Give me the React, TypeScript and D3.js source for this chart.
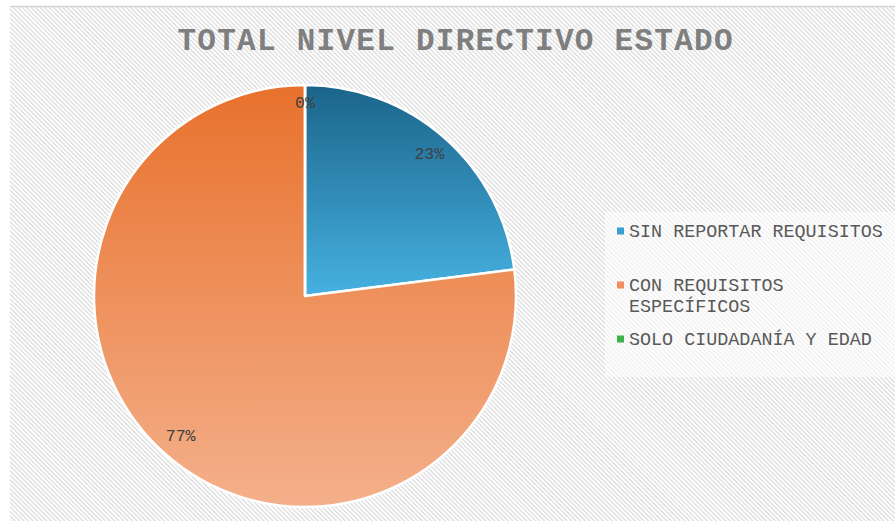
import { useEffect, useRef } from 'react';
import * as d3 from 'd3';

// Data
const categories = ['SIN REPORTAR REQUISITOS', 'CON REQUISITOS ESPECÍFICOS', 'SOLO CIUDADANÍA Y EDAD'];
const legendLines = [['SIN REPORTAR REQUISITOS'], ['CON REQUISITOS', 'ESPECÍFICOS'], ['SOLO CIUDADANÍA Y EDAD']];
const values = [23, 77, 0];
const gradTop = ['#1b6489', '#e8712c', '#2ea043'];
const gradBottom = ['#46b1e1', '#f4b08b', '#4cc35a'];
const legendColors = ['#3a9fd0', '#ee8f5d', '#3cb44b'];

const W = 895;
const H = 521;

function App() {
  const ref = useRef<SVGSVGElement>(null);

  useEffect(() => {
    const svg = d3.select(ref.current);
    svg.selectAll('*').remove();

    const defs = svg.append('defs');
    const pat = defs.append('pattern')
      .attr('id', 'hatch')
      .attr('patternUnits', 'userSpaceOnUse')
      .attr('width', 3.2)
      .attr('height', 3.2)
      .attr('patternTransform', 'rotate(-45)');
    pat.append('rect').attr('width', 3.2).attr('height', 3.2).attr('fill', '#ffffff');
    pat.append('rect').attr('width', 1.3).attr('height', 3.2).attr('fill', '#dcdcdc');

    categories.forEach((_, i) => {
      const g = defs.append('linearGradient')
        .attr('id', `grad${i}`)
        .attr('x1', 0).attr('y1', 0).attr('x2', 0).attr('y2', 1);
      g.append('stop').attr('offset', '0%').attr('stop-color', gradTop[i]);
      g.append('stop').attr('offset', '100%').attr('stop-color', gradBottom[i]);
    });

    // background
    svg.append('rect').attr('width', W).attr('height', H).attr('fill', '#ffffff');
    svg.append('rect').attr('x', 10).attr('y', 7).attr('width', W - 10).attr('height', H - 7).attr('fill', 'url(#hatch)');
    svg.append('line').attr('x1', 10).attr('x2', W).attr('y1', 6.5).attr('y2', 6.5)
      .attr('stroke', '#d4d4d4').attr('stroke-width', 1.5);

    // title
    svg.append('text')
      .attr('x', 455).attr('y', 50)
      .attr('text-anchor', 'middle')
      .attr('font-family', '"Liberation Mono", "Courier New", monospace')
      .attr('font-weight', 'bold')
      .attr('font-size', 31)
      .attr('fill', '#7f7f7f')
      .attr('textLength', 555)
      .text('TOTAL NIVEL DIRECTIVO ESTADO');

    // pie
    const cx = 305, cy = 296, R = 211;
    const pie = d3.pie<number>().sort(null).value(d => d);
    const arcs = pie(values);
    const arc = d3.arc<d3.PieArcDatum<number>>().innerRadius(0).outerRadius(R);
    const labelArc = d3.arc<d3.PieArcDatum<number>>().innerRadius(188).outerRadius(188);
    const total = d3.sum(values);

    const gPie = svg.append('g').attr('transform', `translate(${cx},${cy})`);
    gPie.selectAll('path')
      .data(arcs)
      .enter()
      .append('path')
      .attr('d', arc)
      .attr('fill', (_, i) => `url(#grad${i})`)
      .attr('stroke', '#ffffff')
      .attr('stroke-width', 2.5)
      .attr('stroke-linejoin', 'round');

    gPie.selectAll('text.lbl')
      .data(arcs)
      .enter()
      .append('text')
      .attr('class', 'lbl')
      .attr('transform', d => {
        const [x, y] = labelArc.centroid(d);
        return `translate(${x},${y + (d.value === 0 ? -4 : 0)})`;
      })
      .attr('text-anchor', 'middle')
      .attr('dominant-baseline', 'middle')
      .attr('font-family', '"Liberation Mono", "Courier New", monospace')
      .attr('font-size', 16.5)
      .attr('fill', '#404040')
      .text(d => `${Math.round((d.value / total) * 100)}%`);

    // legend
    svg.append('rect')
      .attr('x', 605).attr('y', 212).attr('width', 290).attr('height', 165)
      .attr('fill', '#ffffff').attr('opacity', 0.55);

    const rowY = [231, 285, 339];
    const gLeg = svg.append('g');
    legendLines.forEach((lines, i) => {
      gLeg.append('rect')
        .attr('x', 617).attr('y', rowY[i] - 3.5)
        .attr('width', 7).attr('height', 7)
        .attr('fill', legendColors[i]);
      const t = gLeg.append('text')
        .attr('font-family', '"Liberation Mono", "Courier New", monospace')
        .attr('font-size', 18.4)
        .attr('fill', '#595959');
      lines.forEach((ln, j) => {
        t.append('tspan')
          .attr('x', 629)
          .attr('y', rowY[i] + 6 + j * 21)
          .text(ln);
      });
    });
  }, []);

  return (
    <svg
      ref={ref}
      width={W}
      height={H}
      style={{ position: 'absolute', left: 0, top: 0 }}
    />
  );
}

export default App;
